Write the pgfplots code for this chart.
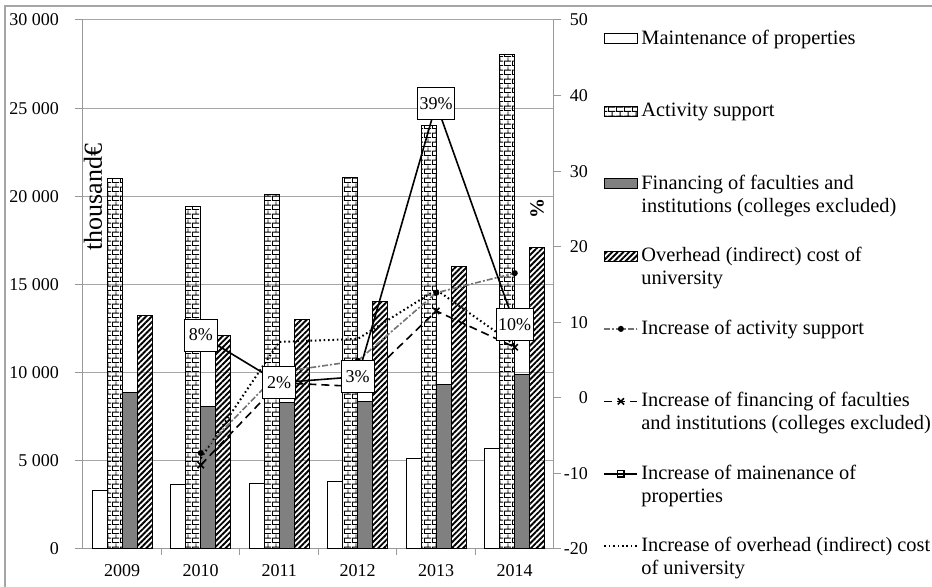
\documentclass[border=0pt]{standalone}
\usepackage{pgfplots}
\pgfplotsset{compat=1.18}
\usepackage{pgfplotstable}
\usepackage{fontspec}
\setmainfont{Liberation Serif}
\usetikzlibrary{patterns,patterns.meta}

% small brick pattern for the activity support bars
\pgfdeclarepatternformonly{mybricks}{\pgfqpoint{0pt}{0pt}}{\pgfqpoint{4pt}{4.4pt}}{\pgfqpoint{4pt}{4.4pt}}{%
  \pgfsetlinewidth{0.5pt}%
  \pgfpathmoveto{\pgfqpoint{0pt}{0.25pt}}\pgfpathlineto{\pgfqpoint{4pt}{0.25pt}}%
  \pgfpathmoveto{\pgfqpoint{0pt}{2.45pt}}\pgfpathlineto{\pgfqpoint{4pt}{2.45pt}}%
  \pgfpathmoveto{\pgfqpoint{0.25pt}{0.25pt}}\pgfpathlineto{\pgfqpoint{0.25pt}{2.45pt}}%
  \pgfpathmoveto{\pgfqpoint{2.25pt}{2.45pt}}\pgfpathlineto{\pgfqpoint{2.25pt}{4.4pt}}%
  \pgfusepath{stroke}%
}

\pgfplotstableread{
x maint act fin over
0 3345 21030 8900 13260
1 3630 19440 8100 12130
2 3690 20120 8280 13040
3 3800 21090 8390 14060
4 5160 24030 9350 16040
5 5725 28060 9920 17120
}\bars

\pgfplotstableread{
x actinc fininc maintinc overinc
1 -7.3 -8.9 8.3 -8.0
2 3.4 2.0 2.0 7.4
3 4.9 1.5 2.8 7.8
4 13.9 11.5 38.9 14.3
5 16.5 6.7 9.7 7.0
}\incr

\pgfplotsset{
  barmaint/.style={draw=black, line width=0.5pt, fill=white},
  baract/.style={draw=black, line width=0.5pt, fill=white, pattern=mybricks},
  barfin/.style={draw=black, line width=0.5pt, fill=black!50},
  barover/.style={draw=black, line width=0.5pt,
    pattern={Lines[angle=45, distance=2pt, line width=0.95pt]}},
  actinc/.style={black!55, line width=0.8pt, dash pattern=on 3pt off 1pt on 1pt off 1pt,
    mark=*, mark options={black, solid, scale=0.55}},
  fininc/.style={black, line width=0.8pt, dash pattern=on 4pt off 2.5pt,
    mark=x, mark options={black, solid, scale=1.1}},
  maintinc/.style={black, line width=0.8pt, solid,
    mark=square, mark options={fill=white, scale=0.8}},
  overinc/.style={black, line width=1pt, dash pattern=on 0.8pt off 1.4pt},
  barleg/.style={legend image code/.code={\draw[##1] (0pt,-2.5pt) rectangle (16.5pt,2.5pt);}},
  lineleg/.style={legend image code/.code={\draw[mark repeat=2,mark phase=2,##1]
    plot coordinates {(0pt,0pt) (8.25pt,0pt) (16.5pt,0pt)};}},
}

\newcommand{\two}[2]{\begin{tabular}[t]{@{}l@{}}#1\\#2\end{tabular}}
\newcommand{\legtext}[1]{\raisebox{0pt}[7pt][2pt]{#1}}

\begin{document}
\begin{tikzpicture}
\begin{axis}[
  scale only axis, width=235.5pt, height=264.5pt,
  ybar=0pt, bar width=7.5pt,
  xmin=-0.5, xmax=5.5, ymin=0, ymax=30000,
  xtick={0,1,2,3,4,5},
  xticklabels={2009,2010,2011,2012,2013,2014},
  minor xtick={0.5,1.5,2.5,3.5,4.5},
  ytick distance=5000,
  axis x line*=bottom, axis y line*=left,
  axis line style={gray!80, line width=0.5pt},
  tick align=outside, major tick length=4pt, minor tick length=3pt,
  tick style={gray!80, line width=0.5pt},
  major x tick style={draw=none},
  ymajorgrids, grid style={gray!70, line width=0.5pt},
  scaled y ticks=false,
  /pgf/number format/1000 sep={\ },
  /pgf/number format/assume math mode=true,
  tick label style={font=\fontsize{9}{10}\selectfont},
  yticklabel style={xshift=-4.5pt},
]
  \coordinate (o) at (rel axis cs:0,0);
  \addplot[barmaint] table[x=x, y=maint] {\bars};
  \addplot[baract] table[x=x, y=act] {\bars};
  \addplot[barfin] table[x=x, y=fin] {\bars};
  \addplot[barover] table[x=x, y=over] {\bars};
  \node[rotate=90, font=\fontsize{13}{14}\selectfont] at (rel axis cs:0.021,0.665) {thousand€};
\end{axis}

\begin{axis}[
  scale only axis, width=235.5pt, height=264.5pt,
  xmin=-0.5, xmax=5.5, ymin=-20, ymax=50,
  ytick distance=10,
  axis y line*=right, axis x line=none,
  axis line style={gray!80, line width=0.5pt},
  tick align=outside, major tick length=3.5pt,
  tick style={gray!80, line width=0.5pt},
  /pgf/number format/assume math mode=true,
  tick label style={font=\fontsize{9}{10}\selectfont},
  yticklabel style={anchor=east, xshift=17pt},
  legend style={draw=none, fill=none, inner sep=0pt, at={(1,1)}, anchor=north west,
    xshift=24.5pt, yshift=-5pt, row sep=27.75pt, column sep=1.5pt,
    nodes={inner sep=0pt, outer sep=0pt},
    font=\fontsize{10.2}{11.5}\selectfont},
  legend cell align=left,
]
  \addlegendimage{barleg, barmaint}
  \addlegendentry{\legtext{Maintenance of properties}}
  \addlegendimage{barleg, baract}
  \addlegendentry{\legtext{Activity support}}
  \addlegendimage{barleg, barfin}
  \addlegendentry{\legtext{\two{Financing of faculties and}{institutions (colleges excluded)}}}
  \addlegendimage{barleg, barover}
  \addlegendentry{\legtext{\two{Overhead (indirect) cost of}{university}}}
  \addlegendimage{lineleg, actinc}
  \addlegendentry{\legtext{Increase of activity support}}
  \addlegendimage{lineleg, fininc}
  \addlegendentry{\legtext{\two{Increase of financing of faculties}{and institutions (colleges excluded)}}}
  \addlegendimage{lineleg, maintinc}
  \addlegendentry{\legtext{\two{Increase of mainenance of}{properties}}}
  \addlegendimage{lineleg, overinc}
  \addlegendentry{\legtext{\two{Increase of overhead (indirect) cost}{of university}}}

  \addplot[overinc, forget plot] table[x=x, y=overinc] {\incr};
  \addplot[actinc, forget plot] table[x=x, y=actinc] {\incr};
  \addplot[fininc, forget plot] table[x=x, y=fininc] {\incr};
  \addplot[maintinc, forget plot, nodes near coords, point meta=explicit symbolic,
    every node near coord/.style={draw=black, solid, fill=white, text=black, anchor=center,
      minimum width=16.5pt, minimum height=16pt, inner sep=1pt, line width=0.5pt,
      font=\fontsize{9}{10}\selectfont}]
    coordinates {(1,8.3)[8\%] (2,2.0)[2\%] (3,2.8)[3\%] (4,38.9)[39\%] (5,9.7)[10\%]};
  \node[rotate=90, font=\bfseries\fontsize{10}{11}\selectfont] at (rel axis cs:0.964,0.643) {\%};
\end{axis}

\draw[gray!70, line width=0.8pt] (o) ++(-39pt,-19pt) -- ++(0pt,290.5pt) -- ++(463.5pt,0pt);
\pgfresetboundingbox
\path (o) ++(-41.5pt,-19pt) rectangle ++(466pt,293.5pt);
\end{tikzpicture}
\end{document}
